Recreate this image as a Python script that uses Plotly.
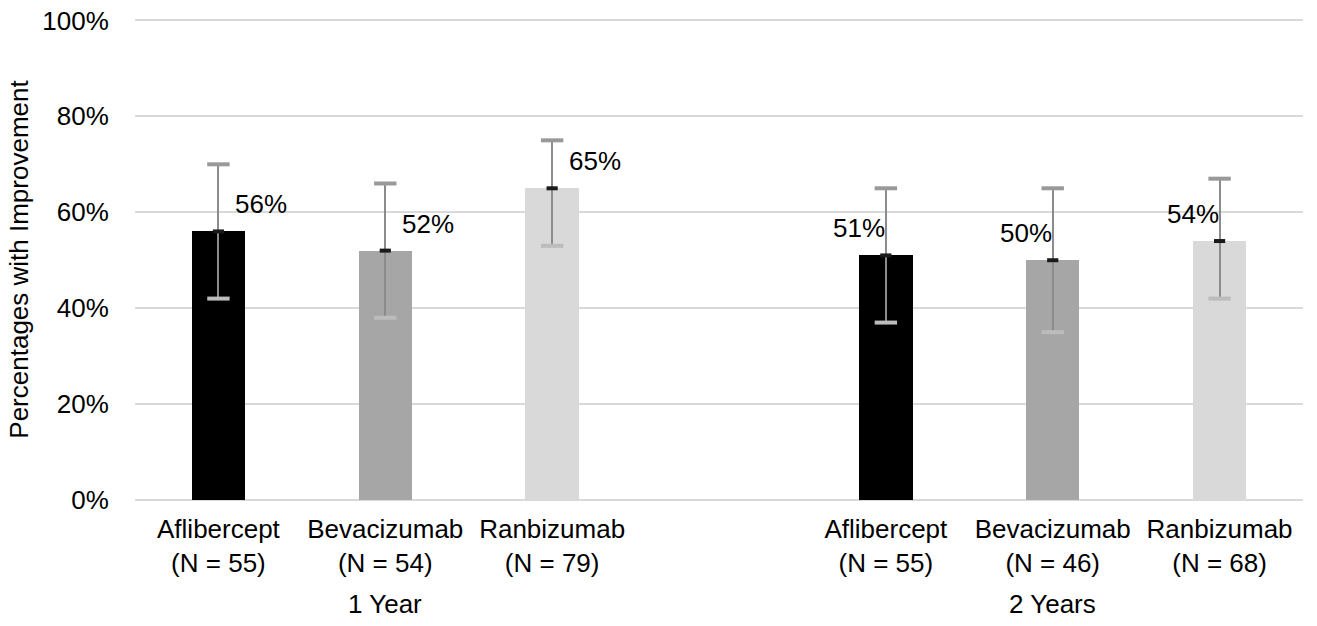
import plotly.graph_objects as go

# ---- data ----
drugs = ["Aflibercept", "Bevacizumab", "Ranbizumab"]
n_year1 = [55, 54, 79]
n_year2 = [55, 46, 68]
groups = ["1 Year", "2 Years"]
pct_year1 = [56, 52, 65]
pct_year2 = [51, 50, 54]
upper_year1 = [70, 66, 75]
upper_year2 = [65, 65, 67]
lower_year1 = [42, 38, 53]
lower_year2 = [37, 35, 42]
y_ticks = [0, 20, 40, 60, 80, 100]

bar_colors = ["#000000", "#a6a6a6", "#d9d9d9"]
FONT = "Liberation Sans, Arial, sans-serif"
FS = 26

# positions: slots 0,1,2 for year 1, empty slot 3, slots 4,5,6 for year 2
xs = [0, 1, 2, 4, 5, 6]
vals = pct_year1 + pct_year2
ups = upper_year1 + upper_year2
lows = lower_year1 + lower_year2
ns = n_year1 + n_year2
ticktext = [f"{d}<br>(N = {n})" for d, n in zip(drugs + drugs, ns)]

fig = go.Figure()
fig.add_trace(go.Bar(
    x=xs, y=vals, width=0.32,
    marker=dict(color=bar_colors * 2, line=dict(width=0)),
    error_y=dict(type="data", symmetric=False,
                 array=[u - v for u, v in zip(ups, vals)],
                 arrayminus=[v - l for v, l in zip(vals, lows)],
                 color="#8c8c8c", thickness=2, width=0),
    showlegend=False, hoverinfo="skip",
))
# caps
fig.add_trace(go.Scatter(x=xs, y=ups, mode="markers",
                         marker=dict(symbol="line-ew", size=16, line=dict(width=4, color="#999999")),
                         showlegend=False, hoverinfo="skip"))
fig.add_trace(go.Scatter(x=xs, y=lows, mode="markers",
                         marker=dict(symbol="line-ew", size=16, line=dict(width=4, color="#bcbcbc")),
                         showlegend=False, hoverinfo="skip"))
fig.add_trace(go.Scatter(x=xs, y=vals, mode="markers",
                         marker=dict(symbol="line-ew", size=8, line=dict(width=4, color="#1a1a1a")),
                         showlegend=False, hoverinfo="skip"))

# data labels
for i, (x, v) in enumerate(zip(xs, vals)):
    fig.add_annotation(x=x, y=v, text=f"{v}%", showarrow=False,
                       xshift=43 if i < 3 else -27, yshift=27,
                       font=dict(family=FONT, size=FS, color="#000000"))

# group labels
for gx, g in zip([1, 5], groups):
    fig.add_annotation(x=gx, y=0, yref="paper", text=g, showarrow=False,
                       yanchor="middle", yshift=-104,
                       font=dict(family=FONT, size=FS, color="#000000"))

fig.update_layout(
    width=1317, height=626,
    margin=dict(l=135, r=14, t=19, b=126, autoexpand=False),
    plot_bgcolor="white", paper_bgcolor="white",
    font=dict(family=FONT, size=FS, color="#000000"),
    bargap=0,
)
fig.update_xaxes(range=[-0.5, 6.5], tickvals=xs, ticktext=ticktext,
                 showgrid=False, zeroline=False, showline=False,
                 ticks="outside", ticklen=6, tickcolor="rgba(0,0,0,0)",
                 tickfont=dict(family=FONT, size=FS, color="#000000"))
fig.update_yaxes(range=[0, 100.3], tickvals=y_ticks,
                 ticktext=[f"{t}%" for t in y_ticks],
                 showgrid=True, gridcolor="#d9d9d9", gridwidth=2,
                 zeroline=True, zerolinecolor="#d9d9d9", zerolinewidth=2,
                 showline=False, ticks="outside", ticklen=20,
                 tickcolor="rgba(0,0,0,0)",
                 title=dict(text="Percentages with Improvement", standoff=6,
                            font=dict(family=FONT, size=FS, color="#000000")),
                 tickfont=dict(family=FONT, size=FS, color="#000000"))

fig.write_html("out.html", config={"displayModeBar": False},
               post_script="document.body.style.margin='0';document.body.style.padding='0';")
